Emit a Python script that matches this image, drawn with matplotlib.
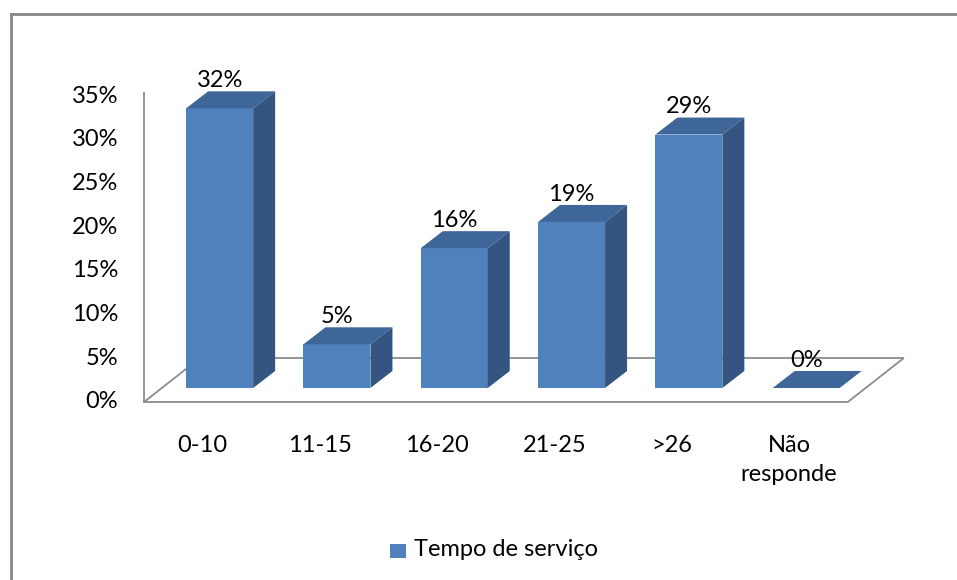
import matplotlib
matplotlib.use("Agg")
import matplotlib.pyplot as plt
from matplotlib.patches import Polygon, Rectangle

# dados
categorias = ["0-10", "11-15", "16-20", "21-25", ">26", "Não\nresponde"]
valores = [32, 5, 16, 19, 29, 0]
rotulos = ["32%", "5%", "16%", "19%", "29%", "0%"]
ticks_y = [0, 5, 10, 15, 20, 25, 30, 35]
serie = "Tempo de serviço"

# cores (estilo Excel 3D)
c_frente = "#4f81bd"
c_lado = "#34557f"
c_topo = "#3e6699"
c_linha = "#8c8c8c"

plt.rcParams['font.family'] = ['Lato', 'DejaVu Sans']

W, H = 957, 580
fig = plt.figure(figsize=(W / 100, H / 100), dpi=100)
ax = fig.add_axes([0, 0, 1, 1])
ax.axis('off')

# escala: 1 categoria = 117.3 px, 1% = 8.74 px, origem no canto frontal esquerdo
XU, YU = 117.3, 8.74
X0, Y0 = 144, 402
ax.set_xlim(-X0 / XU, (W - X0) / XU)
ax.set_ylim((Y0 - H) / YU, Y0 / YU)

def px(dx, dy):
    # deslocamento em pixels -> unidades de dados
    return dx / XU, dy / YU

n = len(categorias)
fdx, fdy = px(56, 44)    # profundidade do piso
odx, ody = px(17, 14)    # plano das barras
bdx, bdy = px(22, 17)    # profundidade da barra
bw = 67 / XU

# moldura do grafico
xm = (11 - X0) / XU
ym = (Y0 - 14) / YU
ax.plot([xm, xm], [(Y0 - 600) / YU, ym], color="#868686", lw=2)
ax.plot([xm, (W + 20 - X0) / XU], [ym, ym], color="#868686", lw=2)

# piso e eixo vertical
piso = Polygon([(0, 0), (n, 0), (n + fdx, fdy), (fdx, fdy)], closed=True,
               facecolor='white', edgecolor=c_linha, lw=1.3)
ax.add_patch(piso)
ax.plot([0, 0], [0, 35.4], color=c_linha, lw=1.3)

# barras 3D
for i, v in enumerate(valores):
    x0 = i + 0.5 + odx - bw / 2
    y0 = ody
    x1 = x0 + bw
    y1 = ody + v
    if v > 0:
        ax.add_patch(Rectangle((x0, y0), bw, v, facecolor=c_frente, edgecolor='none'))
        ax.add_patch(Polygon([(x1, y0), (x1 + bdx, y0 + bdy), (x1 + bdx, y1 + bdy), (x1, y1)],
                             facecolor=c_lado, edgecolor='none'))
    ax.add_patch(Polygon([(x0, y1), (x1, y1), (x1 + bdx, y1 + bdy), (x0 + bdx, y1 + bdy)],
                         facecolor=c_topo, edgecolor='none'))
    ax.text(i + 0.5 + odx, y1 + bdy + 1.25, rotulos[i], ha='center', va='center', fontsize=17)

# rotulos dos eixos
for t in ticks_y:
    ax.text(-26 / XU, t, f"{t}%", ha='right', va='center', fontsize=17)
for i, c in enumerate(categorias):
    ax.text(i + 0.5, -33 / YU, c, ha='center', va='top', fontsize=17, linespacing=1.45)

# legenda
ax.add_patch(Rectangle(((390 - X0) / XU, (Y0 - 558) / YU), 16 / XU, 14 / YU,
                       facecolor=c_frente, edgecolor='none'))
ax.text((414 - X0) / XU, (Y0 - 550) / YU, serie, ha='left', va='center', fontsize=17)

fig.savefig("out.png", dpi=100)
